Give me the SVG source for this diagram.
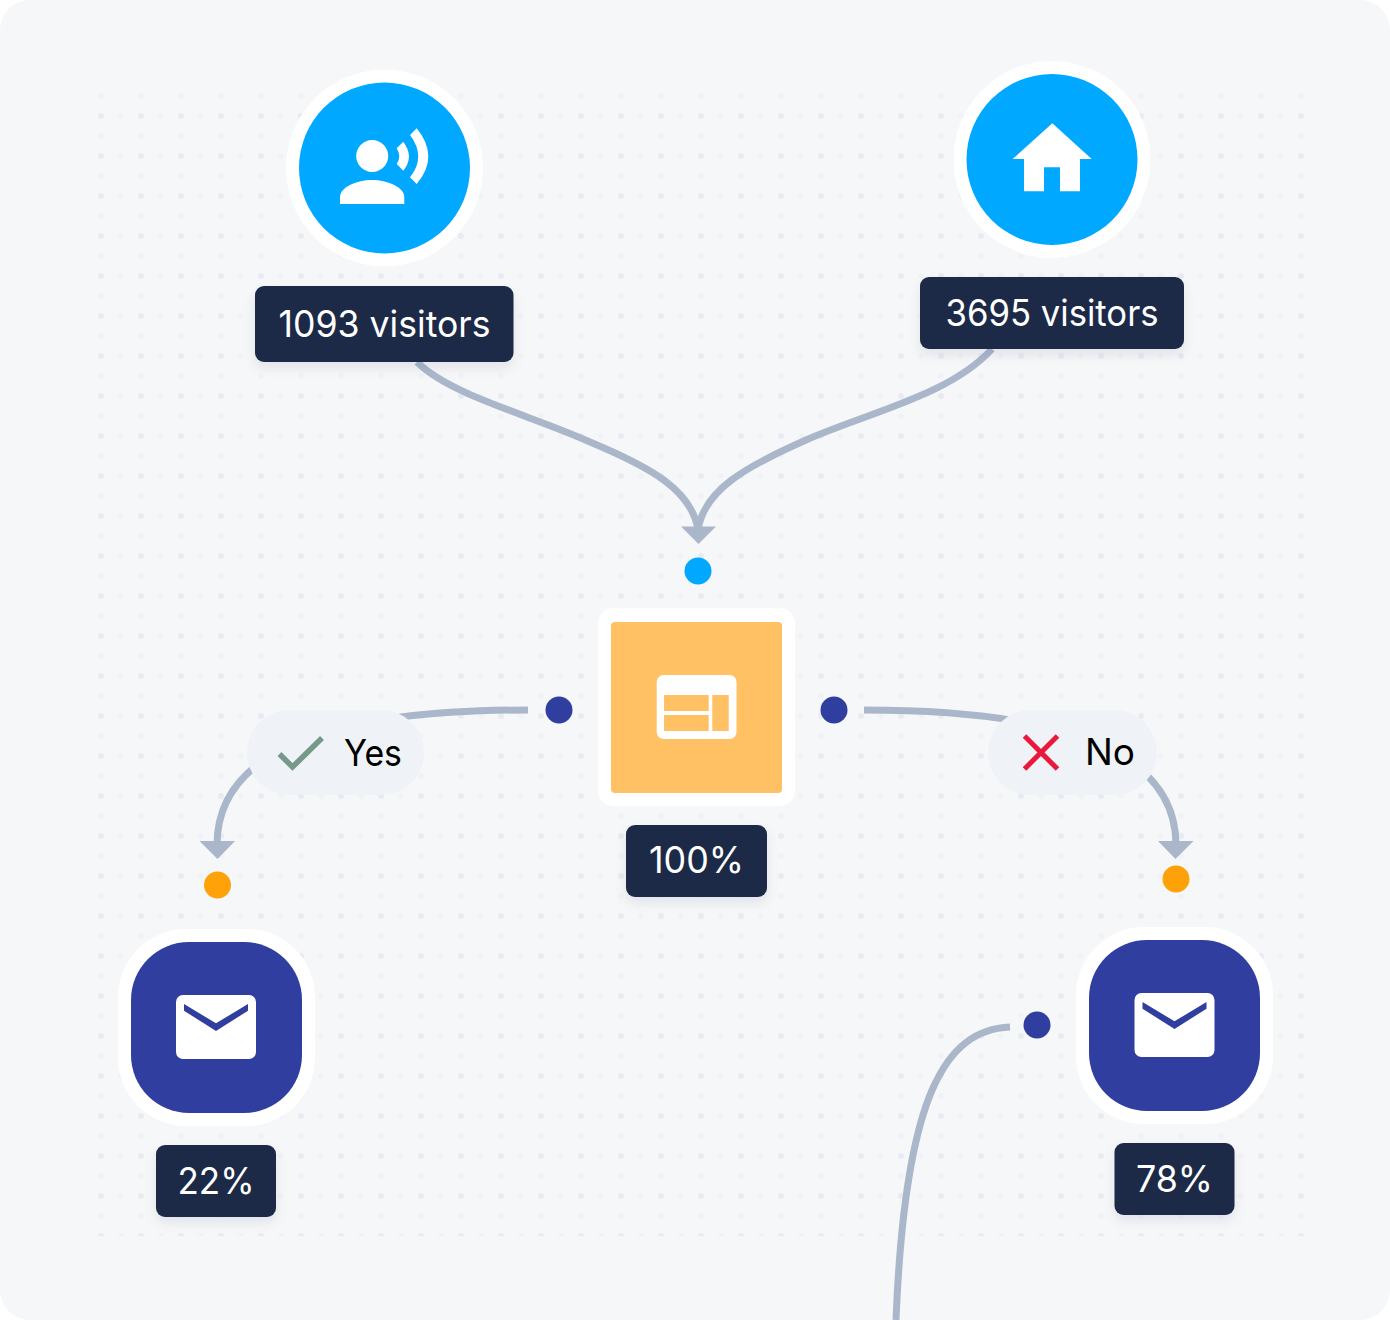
<svg xmlns="http://www.w3.org/2000/svg" width="1390" height="1320" viewBox="0 0 1390 1320">
<style>
text{font-family:"Inter","Roboto","Liberation Sans",sans-serif}
.lbl{fill:#1b2b47;filter:url(#sh)}
.lt{fill:#fff;font-size:37px;text-anchor:middle}
.pt{fill:#000;font-size:37px}
.ring{fill:#fff}
.c{fill:none;stroke:#aab7cb;stroke-width:7}
.ah{fill:#aab7cb}
.pill{fill:#eff2f6}
.bl{fill:#00a9ff}.nv{fill:#303ea0}.or{fill:#ffa109}.sq{fill:#ffc164}
.w{fill:#fff}
</style>
<defs>
<filter id="sh" x="-20%" y="-20%" width="140%" height="160%"><feDropShadow dx="0" dy="6" stdDeviation="6" flood-color="#1b2b47" flood-opacity=".08"/></filter>
<pattern id="dots" x="91" y="86" width="40" height="40" patternUnits="userSpaceOnUse">
<circle cx="10" cy="10" r="2.800" fill="#f0f2f6"/><circle cx="30" cy="30" r="2.800" fill="#f0f2f6"/><circle cx="10" cy="30" r="3" fill="#e9ebf2"/>
</pattern>
<g id="env"><path fill-rule="evenodd" fill="#fff" d="M7 0H73a7 7 0 0 1 7 7V57a7 7 0 0 1-7 7H7a7 7 0 0 1-7-7V7a7 7 0 0 1 7-7ZM8 9V15.700L40 36 72 15.700V9L40 28.300Z"/></g>
</defs>
<rect width="1390" height="1320" fill="#fff"/>
<rect id="bg" width="1390" height="1320" rx="30" fill="#f6f7f9"/>
<rect id="dotgrid" x="96" y="92" width="1210" height="1144" fill="url(#dots)"/>
<g id="connectors">
<path class="c" d="M417 362C450 395 530 415 590 442C650 467 692 490 698 530"/>
<path class="c" d="M992 349C950 395 870 412 806 440C745 467 704 490 698 530"/>
<path class="ah" d="M681 526.500H716L698.500 544Z"/>
<path class="c" d="M528 710C370 710 217 735 217 845"/>
<path class="ah" d="M199.500 841H235L217.500 859Z"/>
<path class="c" d="M864 710C1020 710 1176 735 1176 845"/>
<path class="ah" d="M1158 841H1193.500L1175.500 859Z"/>
<path class="c" d="M1010 1027C945 1030 905 1095 896 1320"/>
</g>
<g id="node-source1">
<circle class="ring" cx="384.500" cy="168" r="98.500"/><circle class="bl" cx="384.500" cy="168" r="85.500"/>
<circle class="w" cx="372.200" cy="156" r="16"/>
<path class="w" d="M340 204V197C340 187 357 180 372 180S404.300 187 404.300 197V204Z"/>
<path class="w" d="M396.700 148.300 403.300 141.700Q414.500 156.700 403.300 170.700L396.700 164Q402 156.700 396.700 148.300Z"/>
<path class="w" d="M410 135 416.700 128.300Q440 156.700 416.700 184L410 177.300Q426.500 156.700 410 135Z"/>
<rect class="lbl" x="255" y="286" width="258.500" height="76" rx="9"/>
<text class="lt" x="384.500" y="336.500" textLength="212" lengthAdjust="spacingAndGlyphs">1093 visitors</text>
</g>
<g id="node-source2">
<circle class="ring" cx="1052" cy="159.500" r="98.500"/><circle class="bl" cx="1052" cy="159.500" r="85.500"/>
<path class="w" d="M1052.300 123.300 1091.700 159H1080V191.300H1060V167.300H1044V191.300H1024V159H1012.700Z"/>
<rect class="lbl" x="920" y="277" width="264" height="72" rx="9"/>
<text class="lt" x="1052" y="325.500" textLength="213" lengthAdjust="spacingAndGlyphs">3695 visitors</text>
</g>
<circle id="port-top" class="bl" cx="698" cy="571" r="13.500"/>
<g id="node-page">
<rect class="ring" x="598" y="608" width="197" height="198" rx="15"/>
<rect class="sq" x="611" y="622" width="171" height="171" rx="4"/>
<path fill-rule="evenodd" fill="#fff" d="M663.700 675H729.500a7 7 0 0 1 7 7V732a7 7 0 0 1-7 7H663.700a7 7 0 0 1-7-7V682a7 7 0 0 1 7-7ZM664 695V711H708.700V695ZM664 715V731H708.700V715ZM712.300 695V731H728.700V695Z"/>
<rect class="lbl" x="626" y="825" width="141" height="72" rx="9"/>
<text class="lt" x="696.500" y="873" textLength="95" lengthAdjust="spacingAndGlyphs">100%</text>
</g>
<circle id="port-left" class="nv" cx="559" cy="710" r="13.500"/>
<circle id="port-right" class="nv" cx="834" cy="710" r="13.500"/>
<g id="pill-yes">
<rect class="pill" x="247" y="710" width="177" height="85" rx="42.500"/>
<path d="M279.500 754 292.500 767 322 738" fill="none" stroke="#76998a" stroke-width="5.500"/>
<text class="pt" x="344" y="766" textLength="58" lengthAdjust="spacingAndGlyphs">Yes</text>
</g>
<g id="pill-no">
<rect class="pill" x="988" y="710" width="169" height="85" rx="42.500"/>
<path d="M1024.500 736 1057.500 769M1057.500 736 1024.500 769" fill="none" stroke="#e8193c" stroke-width="5"/>
<text class="pt" x="1085" y="765" textLength="50" lengthAdjust="spacingAndGlyphs">No</text>
</g>
<circle id="port-yes" class="or" cx="217.500" cy="885" r="13.500"/>
<circle id="port-no" class="or" cx="1176" cy="879" r="13.500"/>
<g id="node-mail-left">
<rect class="ring" x="118" y="929" width="197" height="197" rx="68"/>
<rect class="nv" x="131" y="942" width="171" height="171" rx="58"/>
<use href="#env" x="176" y="995"/>
<rect class="lbl" x="156" y="1145" width="120" height="72" rx="9"/>
<text class="lt" x="216" y="1194" textLength="77" lengthAdjust="spacingAndGlyphs">22%</text>
</g>
<g id="node-mail-right">
<rect class="ring" x="1076" y="927" width="197" height="197" rx="68"/>
<rect class="nv" x="1089" y="940" width="171" height="171" rx="58"/>
<use href="#env" x="1134.500" y="993"/>
<rect class="lbl" x="1114.500" y="1143" width="120" height="72" rx="9"/>
<text class="lt" x="1174.500" y="1192" textLength="77" lengthAdjust="spacingAndGlyphs">78%</text>
</g>
<circle id="port-bottom" class="nv" cx="1037" cy="1025" r="13.500"/>
</svg>
